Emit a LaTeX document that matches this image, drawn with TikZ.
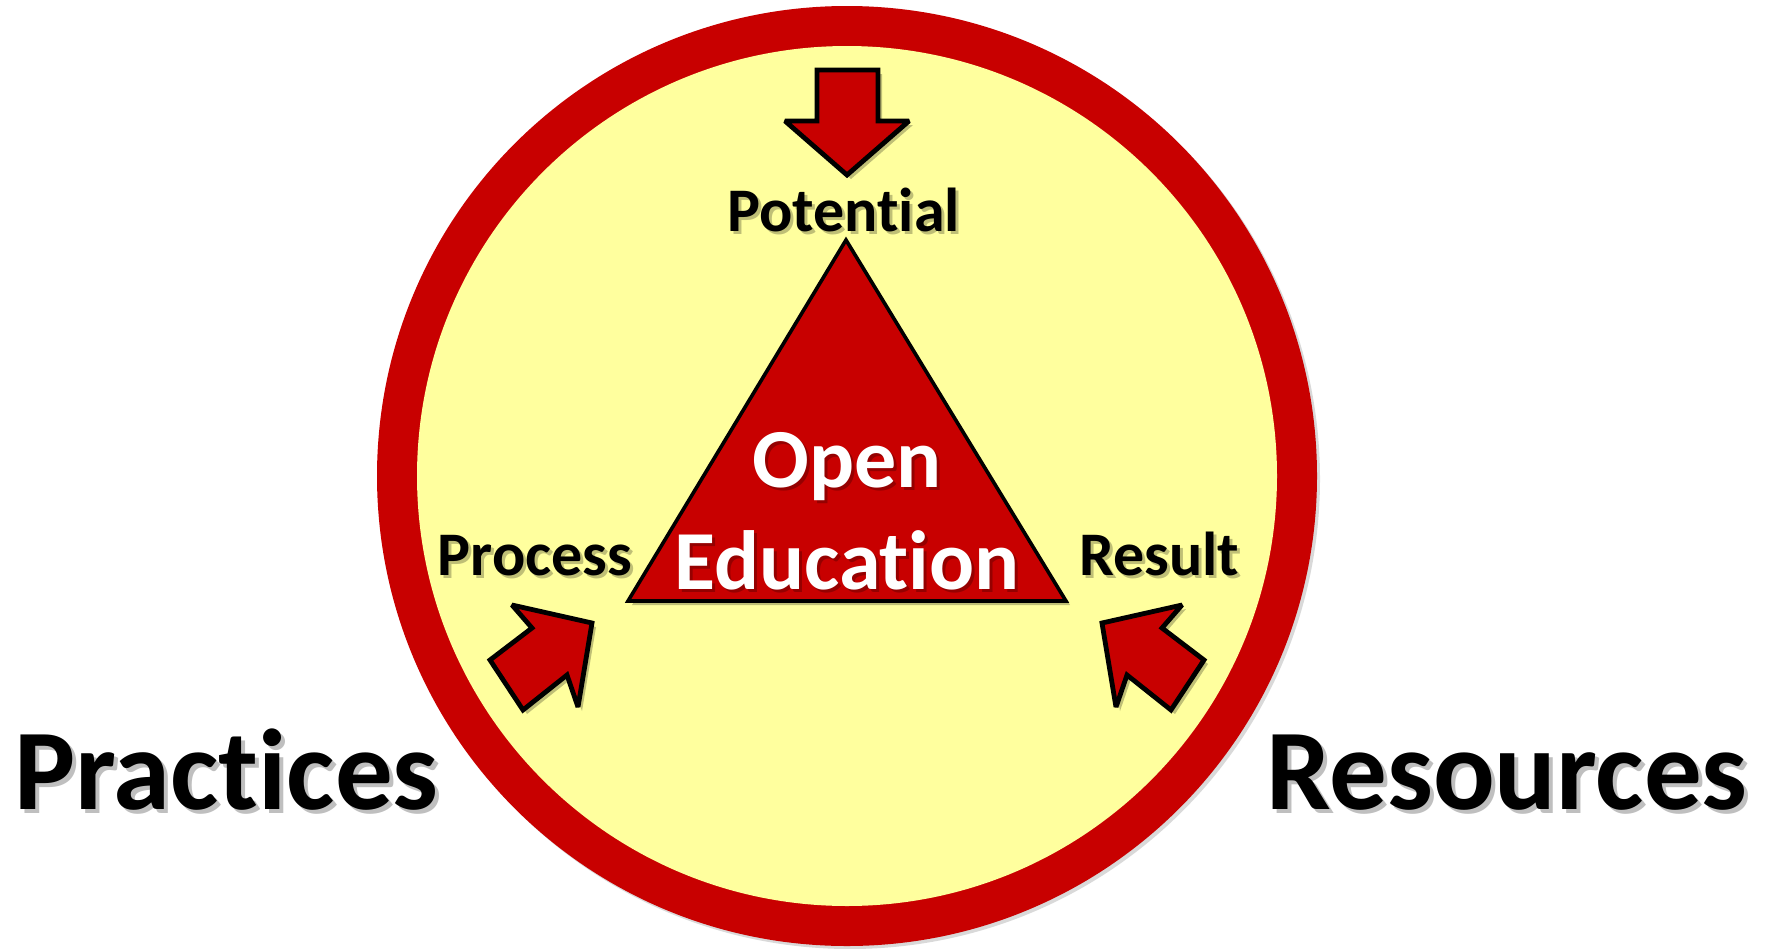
\documentclass[tikz,border=0pt]{standalone}
\usepackage{fontspec}
\setmainfont{Carlito}[Ligatures=NoCommon]
\definecolor{ringred}{HTML}{C80000}
\definecolor{pale}{HTML}{FFFF9E}
\begin{document}
\begin{tikzpicture}[x=0.5pt,y=-0.5pt,
  redshape/.style={fill=ringred,draw=black,line width=1.8pt,line join=miter,miter limit=3},
  arrowshape/.style={fill=ringred,draw=black,line width=2.4pt,line join=miter,miter limit=2},
  shadefill/.style={fill=black,opacity=0.25},
  smalltext/.style={anchor=base,inner sep=0pt,font=\bfseries\fontsize{31}{31}\selectfont},
  bigtext/.style={anchor=base,inner sep=0pt,font=\bfseries\fontsize{57.5}{57.5}\selectfont},
  whitetext/.style={anchor=base,inner sep=0pt,text=white,font=\bfseries\fontsize{42}{42}\selectfont},
  shadowtext/.style={text=black,opacity=0.25}]
\useasboundingbox[fill=white] (0,0) rectangle (1767,948);
% ring
\fill[black,opacity=0.15] (850,479) circle[radius=470];
\fill[ringred] (847,476) coordinate (c) circle[radius=470];
\fill[pale] (c) circle[radius=430];
% triangle
\fill[shadefill] (850,244) -- (1070,605) -- (632,605) -- cycle;
\draw[redshape] (846,240) coordinate (apex) -- (1066,601) coordinate (br) -- (628,601) coordinate (bl) -- cycle;
% top arrow
\fill[shadefill,shift={(4,4)}] (817,70) -- (878,70) -- (878,121) -- (909,121) -- (847,175) -- (785,121) -- (817,121) -- cycle;
\draw[arrowshape] (817,70) -- (878,70) -- (878,121) -- (909,121) -- (847,175) coordinate (toptip) -- (785,121) -- (817,121) -- cycle;
% process arrow
\fill[shadefill,shift={(4,4)}] (592,623) -- (578,707) -- (567,675) -- (523,710) -- (490,660) -- (532,628) -- (512,605) -- cycle;
\draw[arrowshape] (592,623) coordinate (ptip) -- (578,707) -- (567,675) -- (523,710) -- (490,660) -- (532,628) -- (512,605) -- cycle;
% result arrow
\fill[shadefill,shift={(4,4)}] (1102,623) -- (1116,707) -- (1127,675) -- (1171,710) -- (1204,660) -- (1162,628) -- (1182,605) -- cycle;
\draw[arrowshape] (1102,623) coordinate (rtip) -- (1116,707) -- (1127,675) -- (1171,710) -- (1204,660) -- (1162,628) -- (1182,605) -- cycle;
% texts with shadows
\node[smalltext,shadowtext] at (846.5,234) {Potential};
\node[smalltext] (potential) at (843.5,231) {Potential};
\node[smalltext,shadowtext] at (538,578) {Process};
\node[smalltext] (process) at (535,575) {Process};
\node[smalltext,shadowtext] at (1162,578) {Result};
\node[smalltext] (result) at (1159,575) {Result};
\node[whitetext,shadowtext] at (850,490) {Open};
\node[whitetext] (open) at (847,487) {Open};
\node[whitetext,shadowtext] at (850,592) {Education};
\node[whitetext] (education) at (847,589) {Education};
\node[bigtext,shadowtext] at (230.5,813) {Practices};
\node[bigtext] (practices) at (226.5,809) {Practices};
\node[bigtext,shadowtext] at (1511,813) {Resources};
\node[bigtext] (resources) at (1507,809) {Resources};
\end{tikzpicture}
\end{document}
